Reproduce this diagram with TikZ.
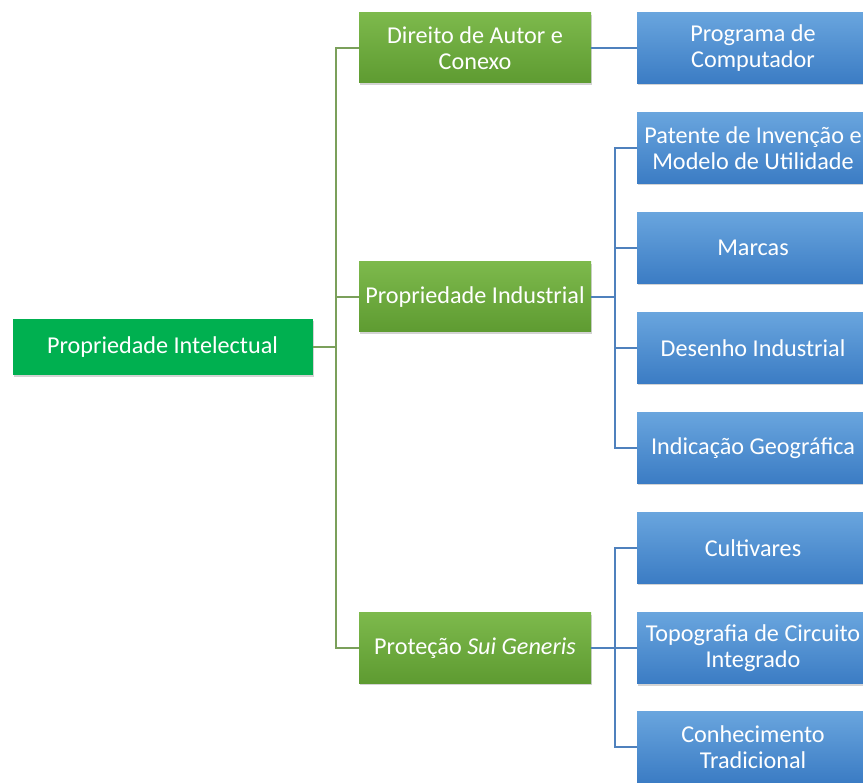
\documentclass[tikz,border=0pt]{standalone}
\usepackage{fontspec}
\setmainfont{Carlito}
\usepackage{tikz}
\usetikzlibrary{shadows}
\definecolor{rootgreen}{HTML}{00B050}
\definecolor{gtop}{HTML}{7DB94C}
\definecolor{gbot}{HTML}{5E9B31}
\definecolor{btop}{HTML}{69A5DE}
\definecolor{bbot}{HTML}{3B7CC4}
\definecolor{gwire}{HTML}{7BA05B}
\definecolor{bwire}{HTML}{4F81BD}
\tikzset{rootbox/.style = {shape=rectangle,fill=rootgreen,text=white,minimum width=300pt,minimum height=56pt,
                           drop shadow={shadow xshift=1pt,shadow yshift=-2pt,opacity=0.35}},
         greenbox/.style = {shape=rectangle,top color=gtop,bottom color=gbot,text=white,align=center,
                            minimum width=232pt,minimum height=70pt,inner sep=2pt,
                            drop shadow={shadow xshift=1pt,shadow yshift=-2pt,opacity=0.35}},
         bluebox/.style = {shape=rectangle,top color=btop,bottom color=bbot,text=white,align=center,
                           minimum width=232pt,minimum height=71pt,inner sep=2pt,
                           drop shadow={shadow xshift=1pt,shadow yshift=-2pt,opacity=0.35}},
         gline/.style = {draw=gwire,line width=1.4pt},
         bline/.style = {draw=bwire,line width=1.4pt}}

\begin{document}
\begin{tikzpicture}[x=1pt,y=-1pt,font=\fontsize{24.2}{25.5}\selectfont]
                    \useasboundingbox (0,0) rectangle (863,783);
                    \clip (0,0) rectangle (863,783);

                    \node[rootbox] (PI) at (162.5,347) {Propriedade Intelectual};

                    \node[greenbox] (DA) at (475,48) {Direito de Autor e\\Conexo};
                    \node[greenbox] (PInd) at (475,297) {Propriedade Industrial};
                    \node[greenbox] (PSG) at (475,648) {Proteção \textit{Sui Generis}};

                    \node[bluebox] (PC) at (753,48) {Programa de\\Computador};
                    \node[bluebox] (PIMU) at (753,148) {Patente de Invenção e\\Modelo de Utilidade};
                    \node[bluebox] (M) at (753,248) {Marcas};
                    \node[bluebox] (DI) at (753,348) {Desenho Industrial};
                    \node[bluebox] (IG) at (753,448) {Indicação Geográfica};
                    \node[bluebox] (C) at (753,548) {Cultivares};
                    \node[bluebox] (TCI) at (753,648) {Topografia de Circuito\\Integrado};
                    \node[bluebox] (CT) at (753,747) {Conhecimento\\Tradicional};

                    \coordinate (g) at (336,347);
                    \coordinate (i) at (615,297);
                    \coordinate (s) at (615,648);

                    \draw[gline] (PI) -- (g);
                    \foreach \n in {DA,PInd,PSG}
                        \draw[gline] (g) |- (\n.west);

                    \draw[bline] (DA) -- (PC);
                    \draw[bline] (PInd) -- (i);
                    \foreach \n in {PIMU,M,DI,IG}
                        \draw[bline] (i) |- (\n.west);
                    \draw[bline] (PSG) -- (s);
                    \foreach \n in {C,TCI,CT}
                        \draw[bline] (s) |- (\n.west);
                \end{tikzpicture}
\end{document}
